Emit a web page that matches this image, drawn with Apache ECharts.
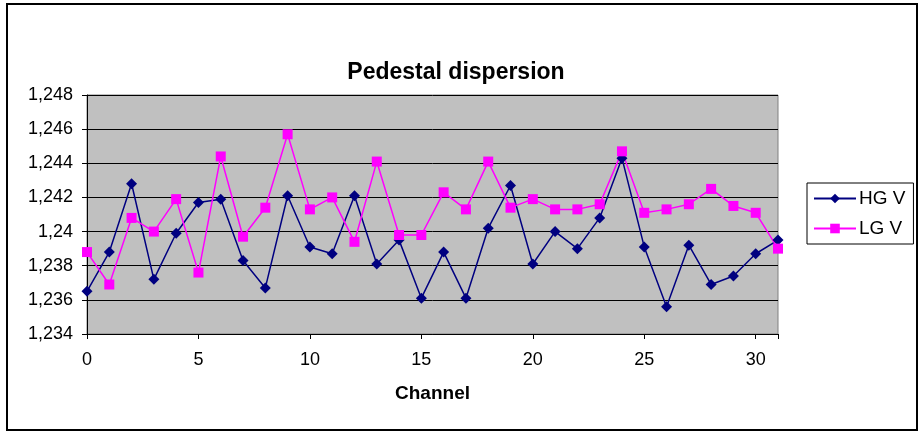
<!DOCTYPE html>
<html>
<head>
<meta charset="utf-8">
<script src="https://cdn.jsdelivr.net/npm/echarts@6/dist/echarts.min.js"></script>
<style>
html,body{margin:0;padding:0;background:#fff;}
#chart{width:922px;height:434px;}
</style>
</head>
<body>
<div id="chart"></div>
<script>
const channels = [0,1,2,3,4,5,6,7,8,9,10,11,12,13,14,15,16,17,18,19,20,21,22,23,24,25,26,27,28,29,30,31];
const hgV = [1.2365,1.2388,1.2428,1.2372,1.2399,1.2417,1.2419,1.2383,1.2367,1.2421,
             1.2391,1.2387,1.2421,1.2381,1.2395,1.2361,1.2388,1.2361,1.2402,1.2427,
             1.2381,1.2400,1.2390,1.2408,1.2443,1.2391,1.2356,1.2392,1.2369,1.2374,
             1.2387,1.2395];
const lgV = [1.2388,1.2369,1.2408,1.2400,1.2419,1.2376,1.2444,1.2397,1.2414,1.2457,
             1.2413,1.2420,1.2394,1.2441,1.2398,1.2398,1.2423,1.2413,1.2441,1.2414,
             1.2419,1.2413,1.2413,1.2416,1.2447,1.2411,1.2413,1.2416,1.2425,1.2415,
             1.2411,1.2390];
const yTickValues = [1.234,1.236,1.238,1.240,1.242,1.244,1.246,1.248];
const yTickLabels = ['1,234','1,236','1,238','1,24','1,242','1,244','1,246','1,248'];
const xTickLabels = ['0','5','10','15','20','25','30'];

const FONT = '"Liberation Sans", Arial, sans-serif';
const chart = echarts.init(document.getElementById('chart'), null, {renderer:'canvas'});
function yLabel(v){
  for (let i=0;i<yTickValues.length;i++){ if (Math.abs(yTickValues[i]-v)<1e-7) return yTickLabels[i]; }
  return '';
}
chart.setOption({
  backgroundColor:'#ffffff',
  animation:false,
  title:{
    text:'Pedestal dispersion',
    left:456, top:61, padding:0, textAlign:'center',
    textStyle:{fontFamily:FONT,fontSize:23,fontWeight:'bold',color:'#000'}
  },
  legend:{
    left:807, top:183, orient:'vertical',
    padding:[6,8,6,6],
    itemWidth:42, itemHeight:12, itemGap:11,
    borderColor:'#000', borderWidth:1,
    textStyle:{fontFamily:FONT,fontSize:19,color:'#000',padding:[0,0,0,-2]},
    data:['HG V','LG V']
  },
  grid:{left:87,right:144,top:95,bottom:100,show:true,backgroundColor:'#c0c0c0',borderColor:'#808080',borderWidth:1},
  xAxis:{
    type:'value', min:0, max:31, interval:5,
    name:'Channel', nameLocation:'middle', nameGap:50,
    nameTextStyle:{fontFamily:FONT,fontSize:19,fontWeight:'bold',color:'#000'},
    axisLine:{show:true,onZero:false,lineStyle:{color:'#000',width:1}},
    axisTick:{show:true,length:5,lineStyle:{color:'#000'}},
    axisLabel:{fontFamily:FONT,fontSize:18,color:'#000',margin:17,
      formatter:function(v){ const s=String(v); return xTickLabels.indexOf(s)>=0?s:''; }},
    splitLine:{show:false}
  },
  yAxis:{
    type:'value', min:1.234, max:1.248, interval:0.002,
    axisLine:{show:true,lineStyle:{color:'#000',width:1}},
    axisTick:{show:true,length:5,lineStyle:{color:'#000'}},
    axisLabel:{fontFamily:FONT,fontSize:18,color:'#000',margin:14,formatter:yLabel},
    splitLine:{show:true,lineStyle:{color:'#000',width:1}}
  },
  series:[
    {name:'HG V',type:'line',data:channels.map((c,i)=>[c,hgV[i]]),
     symbol:'diamond',symbolSize:11,showAllSymbol:true,
     itemStyle:{color:'#000080'},lineStyle:{color:'#000080',width:1.5}},
    {name:'LG V',type:'line',data:channels.map((c,i)=>[c,lgV[i]]),
     symbol:'rect',symbolSize:10,showAllSymbol:true,
     itemStyle:{color:'#ff00ff'},lineStyle:{color:'#ff00ff',width:1.5}}
  ],
  graphic:[
    {type:'rect',shape:{x:7,y:4,width:910,height:426},style:{fill:'none',stroke:'#000',lineWidth:2},z:100,silent:true}
  ]
});
</script>
</body>
</html>
